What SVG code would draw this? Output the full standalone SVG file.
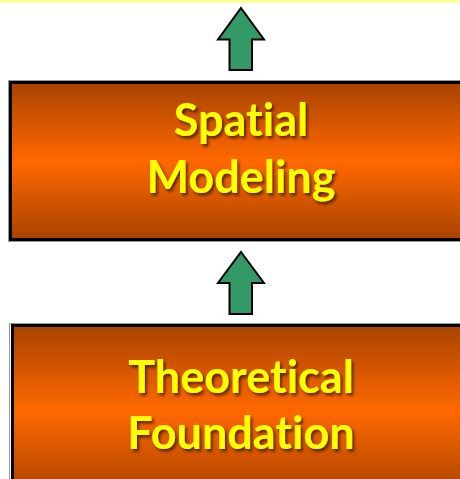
<svg xmlns="http://www.w3.org/2000/svg" width="460" height="479" viewBox="0 0 460 479">
  <defs>
    <linearGradient id="orange" x1="0" y1="0" x2="0" y2="1">
      <stop offset="0" stop-color="#a84300"/>
      <stop offset="0.5" stop-color="#ff6800"/>
      <stop offset="1" stop-color="#a84300"/>
    </linearGradient>
    <filter id="shadow" x="-10%" y="-20%" width="130%" height="150%">
      <feDropShadow dx="2" dy="2.5" stdDeviation="1.8" flood-color="#000" flood-opacity="0.6"/>
    </filter>
    <style>
      .box { fill: url(#orange); stroke: #000; stroke-width: 3; }
      .halo { fill: none; stroke: #999; stroke-width: 1; }
      .label { font-family: Lato, "Liberation Sans", sans-serif; font-weight: bold; font-size: 45px; fill: #ffff00; text-anchor: middle; filter: url(#shadow); font-variant-ligatures: none; font-feature-settings: "liga" 0, "clig" 0; }
      .arrow { fill: #339966; stroke: #000; stroke-width: 2; stroke-linejoin: miter; }
    </style>
  </defs>
  <rect x="0" y="0" width="460" height="3" fill="#ffff99"/>
  <g id="connectors">
    <polygon class="arrow" points="241,8 264,39.5 252,39.5 252,70 229.5,70 229.5,39.5 218,39.5"/>
    <polygon class="arrow" points="241,252 264,283 252,283 252,314 229.5,314 229.5,283 218,283"/>
  </g>
  <g id="spatial-modeling">
    <rect class="halo" x="8.5" y="80.5" width="460" height="161"/>
    <rect class="box" x="10.5" y="82.5" width="460" height="157"/>
    <text class="label" x="241" y="136">Spatial</text>
    <text class="label" x="241" y="193">Modeling</text>
  </g>
  <g id="theoretical-foundation">
    <rect class="halo" x="9.5" y="323.5" width="460" height="170"/>
    <rect class="box" x="12.5" y="325.5" width="460" height="170"/>
    <text class="label" x="241" y="393">Theoretical</text>
    <text class="label" x="241" y="449">Foundation</text>
  </g>
</svg>
